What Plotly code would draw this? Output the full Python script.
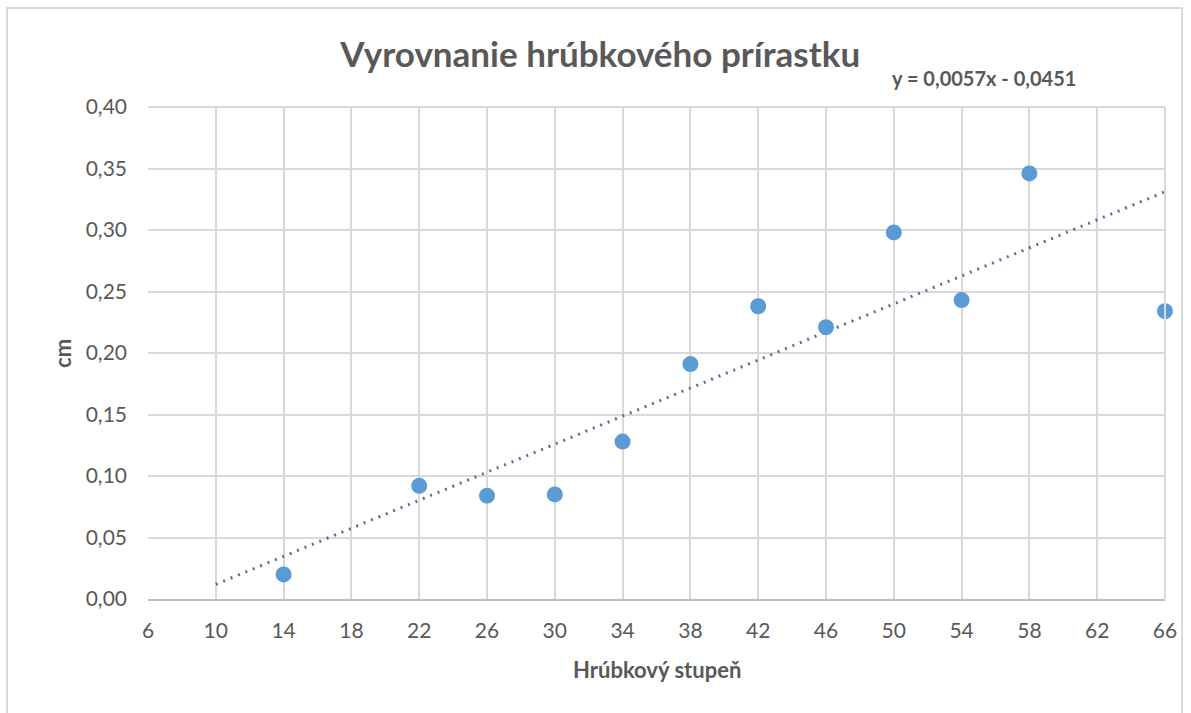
import plotly.graph_objects as go

x_vals = [14, 22, 26, 30, 34, 38, 42, 46, 50, 54, 58, 66]
y_vals = [0.020, 0.092, 0.084, 0.085, 0.128, 0.191, 0.238, 0.221, 0.298, 0.243, 0.346, 0.234]
slope = 0.0057
intercept = -0.0451
trend_x = [10, 66]
trend_y = [slope * v + intercept for v in trend_x]
x_ticks = list(range(6, 67, 4))
y_ticks = [0, 0.05, 0.10, 0.15, 0.20, 0.25, 0.30, 0.35, 0.40]
y_tick_text = [f"{v:.2f}".replace(".", ",") for v in y_ticks]

FONT = "Lato, 'Open Sans', sans-serif"
GREY = "#595959"

fig = go.Figure()
fig.add_trace(go.Scatter(
    x=trend_x, y=trend_y, mode="lines",
    line=dict(color="#55709a", width=3, dash="2px,6px"),
    showlegend=False, hoverinfo="skip"))
fig.add_trace(go.Scatter(
    x=x_vals, y=y_vals, mode="markers", cliponaxis=False,
    marker=dict(color="#5b9bd5", size=16, line=dict(width=0)),
    showlegend=False))

fig.update_layout(
    width=1191, height=713,
    margin=dict(l=148, r=26, t=107, b=114),
    paper_bgcolor="white", plot_bgcolor="white",
    font=dict(family=FONT, color=GREY, size=21),
    title=dict(text="<b>Vyrovnanie hrúbkového prírastku</b>",
               x=0.504, xanchor="center", y=0.923, yanchor="middle",
               font=dict(size=35, color=GREY, family=FONT)),
    xaxis=dict(range=[6, 66], tickvals=x_ticks, ticktext=[str(v) for v in x_ticks],
               showgrid=True, gridcolor="#d9d9d9", gridwidth=2,
               showline=True, linecolor="#bfbfbf", linewidth=2,
               zeroline=False, ticks="", ticklen=0, ticklabelstandoff=12,
               tickfont=dict(size=21, color=GREY)),
    yaxis=dict(range=[0, 0.40], tickvals=y_ticks, ticktext=y_tick_text,
               showgrid=True, gridcolor="#d9d9d9", gridwidth=2,
               showline=False, zeroline=False, ticks="", ticklabelstandoff=20,
               tickfont=dict(size=21, color=GREY)),
    shapes=[dict(type="rect", xref="paper", yref="paper",
                 x0=-0.1386, x1=1.0167, y0=-0.25, y1=1.2012,
                 line=dict(color="#d9d9d9", width=2), fillcolor="rgba(0,0,0,0)", layer="below"),
            dict(type="line", xref="paper", yref="paper", x0=1, x1=1, y0=0, y1=1,
                 line=dict(color="#d9d9d9", width=2)),
            dict(type="line", xref="paper", yref="paper", x0=0, x1=1, y0=1, y1=1,
                 line=dict(color="#d9d9d9", width=2))],
    annotations=[
        dict(text="<b>y = 0,0057x - 0,0451</b>", xref="paper", yref="paper",
             x=0.822, y=1.059, xanchor="center", yanchor="middle",
             showarrow=False, font=dict(size=20, color=GREY, family=FONT)),
        dict(text="<b>Hrúbkový stupeň</b>", xref="paper", yref="paper",
             x=0.5, y=-0.1423, xanchor="center", yanchor="middle",
             showarrow=False, font=dict(size=22, color=GREY, family=FONT)),
        dict(text="<b>cm</b>", xref="paper", yref="paper", textangle=-90,
             x=-0.0846, y=0.5, xanchor="center", yanchor="middle",
             showarrow=False, font=dict(size=22, color=GREY, family=FONT)),
    ],
)

fig.write_html("out.html", config={"displayModeBar": False})
with open("out.html", "r", encoding="utf-8") as f:
    html = f.read()
html = html.replace("<head>", "<head><style>html,body{margin:0;padding:0;overflow:hidden;}</style>", 1)
with open("out.html", "w", encoding="utf-8") as f:
    f.write(html)
